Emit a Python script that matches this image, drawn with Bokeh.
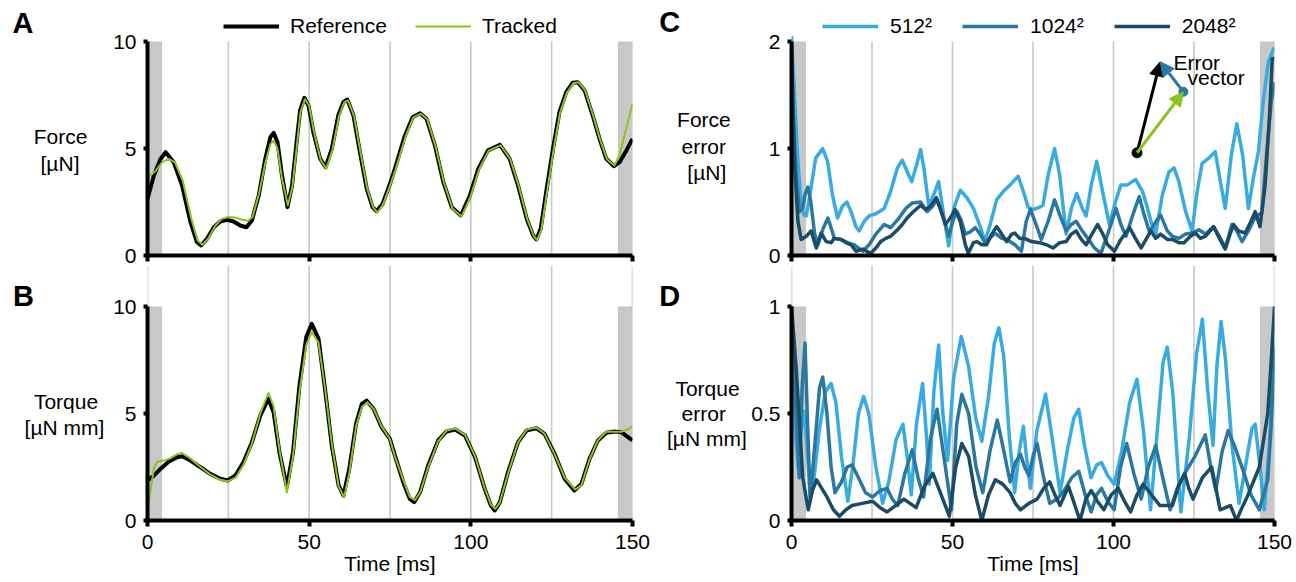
from bokeh.plotting import figure
from bokeh.models import Range1d, FixedTicker, Legend, LegendItem, Arrow, NormalHead
from bokeh.layouts import row, column
from bokeh.core.properties import value
from bokeh.embed import file_html
from bokeh.resources import INLINE

FONT = "Liberation Sans"

# ---------------- data ----------------
time_ticks = [0, 50, 100, 150]
grid_times = [0, 25, 50, 75, 100, 125, 150]
shade_left = [0, 145.5]
shade_right = [4.5, 150]

force_ref_t = [0, 2, 4, 5.6, 8.1, 10.7, 13.3, 15.3, 16.6, 18.4, 20.5, 22.5, 24.6, 26.6, 28.7, 30.6, 32.3, 34.4, 36.4, 38,
               39, 40.2, 41.6, 43.3, 44.7, 46, 47.2, 48.5, 49.8, 51.3, 53.4, 55.1, 57, 59, 60.6, 61.8, 63.7, 65.7, 67.8, 69.6,
               70.9, 72.7, 75, 76.5, 79.6, 82, 84.3, 86.3, 88.9, 91.5, 94.1, 96.9, 99.7, 102.3, 105.3, 109, 112, 114.6, 117.3, 119.3,
               120.3, 121.6, 123.3, 125.4, 127.4, 129.5, 131.5, 133.1, 135.2, 137.7, 139.8, 141.9, 144.3, 146, 148.1, 150]
force_ref = [2.65, 3.75, 4.5, 4.83, 4.36, 3.27, 1.56, 0.62, 0.47, 0.78, 1.32, 1.59, 1.67, 1.59, 1.4, 1.32, 1.64, 2.8, 4.5, 5.53,
             5.73, 5.3, 3.74, 2.26, 3.27, 5.14, 6.78, 7.37, 7.0, 5.76, 4.52, 4.13, 4.98, 6.54, 7.17, 7.29, 6.54, 4.83, 3.12, 2.26,
             2.07, 2.41, 3.35, 4.05, 5.6, 6.46, 6.65, 6.39, 5.14, 3.43, 2.26, 1.87, 2.8, 4.05, 4.91, 5.17, 4.52, 3.27, 1.71, 0.93,
             0.75, 1.25, 2.96, 4.98, 6.7, 7.63, 8.07, 8.1, 7.71, 6.54, 5.45, 4.52, 4.17, 4.36, 4.91, 5.45]

force_trk_t = [0, 1, 2.5, 4.5, 6.6, 8.5, 10.9, 13.5, 15.5, 17, 18.8, 20.8, 22.8, 25, 27, 29, 31, 32.5, 34.5, 36.4,
               38, 39, 40.2, 41.6, 43.4, 44.8, 46.1, 47.3, 48.7, 50, 51.5, 53.6, 55.3, 57.2, 59.2, 60.8, 62, 63.9, 65.9, 68,
               69.8, 71.1, 72.9, 75.2, 76.7, 79.8, 82.2, 84.5, 86.5, 89.1, 91.7, 94.3, 97.1, 99.9, 102.5, 105.5, 109.2, 112.2, 114.8, 117.5,
               119.5, 120.5, 121.8, 123.5, 125.6, 127.6, 129.7, 131.7, 133.3, 135.4, 137.9, 140, 142.1, 144.4, 146, 148, 150]
force_trk = [3.82, 3.75, 3.95, 4.35, 4.52, 4.35, 3.5, 1.75, 0.7, 0.5, 0.8, 1.35, 1.7, 1.8, 1.78, 1.68, 1.62, 1.8, 2.9, 4.3,
             5.2, 5.37, 5.0, 3.6, 2.35, 3.2, 5.0, 6.7, 7.3, 7.0, 5.75, 4.45, 4.05, 4.95, 6.5, 7.15, 7.25, 6.5, 4.8, 3.1,
             2.25, 2.0, 2.4, 3.35, 4.0, 5.55, 6.45, 6.62, 6.38, 5.1, 3.4, 2.2, 1.82, 2.75, 4.0, 4.9, 5.15, 4.5, 3.25, 1.68,
             0.9, 0.72, 1.2, 2.9, 4.95, 6.68, 7.6, 8.05, 8.1, 7.7, 6.5, 5.4, 4.5, 4.2, 4.7, 5.9, 7.09]

torque_ref_t = [0, 2, 4, 6.6, 9.2, 10.7, 13.3, 16.4, 19.4, 22.5, 24.8, 27.2, 29.7, 32.3, 34.9, 37.4, 39, 40.8, 43.1, 45,
                47, 49.1, 50.8, 52.9, 54.9, 57, 59.1, 60.6, 62.4, 64.5, 66.3, 67.8, 69.9, 72.4, 75, 76.5, 79.1, 81.1, 82.5, 84.3,
                86.8, 89.9, 92.5, 95.1, 98.2, 101.3, 104.3, 106.2, 107.4, 109, 111.5, 114.6, 117.3, 120.3, 122.8, 125.9, 129, 132, 134.2, 136.7,
                139.3, 141.9, 144.5, 146.5, 150]
torque_ref = [1.87, 2.1, 2.41, 2.76, 2.96, 3.0, 2.8, 2.49, 2.18, 1.95, 1.87, 2.1, 2.73, 3.66, 4.91, 5.69, 5.06, 3.19, 1.56, 3.19,
              6.31, 8.57, 9.19, 8.49, 6.15, 3.5, 1.64, 1.17, 2.41, 4.52, 5.45, 5.6, 5.22, 4.36, 3.8, 3.04, 1.79, 1.01, 0.86, 1.32,
              2.57, 3.74, 4.16, 4.25, 3.97, 2.96, 1.48, 0.7, 0.47, 0.86, 2.26, 3.66, 4.21, 4.31, 4.05, 3.12, 1.95, 1.4, 1.71, 2.88,
              3.74, 4.1, 4.16, 4.13, 3.74]

torque_trk_t = [0, 1, 2, 3, 5, 7, 9.2, 10.7, 13.3, 16.4, 19.4, 22.5, 24.8, 27.2, 29.7, 32.3, 34.9, 37.4, 39, 40.8,
                43.1, 45, 47, 49.1, 50.8, 52.9, 54.9, 57, 59.1, 60.8, 62.4, 64.5, 66.3, 68, 70, 72.4, 75, 76.5, 79.1, 81.1,
                82.7, 84.3, 86.8, 89.9, 92.5, 95.1, 98.2, 101.3, 104.3, 106.2, 107.6, 109, 111.5, 114.6, 117.3, 120.3, 122.8, 125.9, 129, 132.3,
                134.2, 136.7, 139.3, 141.9, 144.5, 146.5, 148.5, 150]
torque_trk = [0.4, 1.5, 2.45, 2.75, 2.8, 2.9, 3.1, 3.15, 2.9, 2.5, 2.15, 1.9, 1.83, 2.0, 2.6, 3.6, 5.0, 5.97, 5.35, 3.3,
              1.32, 3.0, 6.0, 8.2, 8.8, 8.3, 6.2, 3.6, 1.6, 1.09, 2.2, 4.4, 5.3, 5.53, 5.2, 4.4, 3.8, 3.0, 1.9, 1.1,
              0.95, 1.3, 2.5, 3.7, 4.2, 4.3, 4.0, 3.0, 1.5, 0.75, 0.55, 0.85, 2.2, 3.65, 4.25, 4.35, 4.05, 3.1, 2.0, 1.45,
              1.65, 2.85, 3.75, 4.15, 4.15, 4.15, 4.25, 4.4]

# force error (time, value) per resolution
force_err_512 = [(0, 2.05), (0.8, 1.59), (1.8, 0.97), (2.8, 0.57), (3.8, 0.38), (4.6, 0.37), (5.9, 0.6), (7.5, 0.91),
                 (9.7, 1.0), (11.2, 0.88), (12.7, 0.57), (14.3, 0.35), (15.8, 0.46), (17.2, 0.5), (18.5, 0.41), (20, 0.27),
                 (21, 0.23), (22.6, 0.32), (24.1, 0.37), (26.2, 0.39), (28.8, 0.44), (30.8, 0.6), (32.9, 0.82), (34.4, 0.89),
                 (36, 0.78), (37.3, 0.69), (38.9, 0.85), (40.1, 0.99), (41.1, 0.82), (42.6, 0.47), (44.2, 0.57), (45.7, 0.69),
                 (47.1, 0.41), (48.8, 0.09), (50.4, 0.44), (52.4, 0.61), (54.5, 0.54), (56.5, 0.44), (58.6, 0.27), (60.1, 0.13),
                 (61.7, 0.29), (63.7, 0.52), (65.8, 0.6), (67.9, 0.66), (70.4, 0.74), (72, 0.6), (73.5, 0.45), (75, 0.43),
                 (77, 0.45), (78.1, 0.47), (79.7, 0.75), (81.7, 1.0), (83.3, 0.75), (85.3, 0.2), (86.9, 0.44), (88.6, 0.58),
                 (90.3, 0.44), (91.5, 0.37), (93.1, 0.66), (94.8, 0.88), (96.6, 0.6), (98.7, 0.29), (100.6, 0.5), (102.3, 0.66),
                 (104.3, 0.66), (106.9, 0.71), (109, 0.6), (110.5, 0.45), (111.6, 0.32), (113.1, 0.2), (115.2, 0.57),
                 (117.2, 0.78), (118.8, 0.82), (120.3, 0.69), (122.4, 0.41), (124.4, 0.23), (126, 0.6), (127.5, 0.86),
                 (129.6, 0.91), (131.6, 0.97), (133.2, 0.69), (134.7, 0.44), (136.6, 0.94), (138.3, 1.23), (140.1, 0.94),
                 (141.9, 0.44), (143.4, 0.72), (145, 0.97), (146.5, 1.44), (148.1, 1.81), (149.7, 1.93), (150, 1.94)]
force_err_1024 = [(0, 1.23), (0.5, 1.23), (1.5, 0.72), (2.5, 0.41), (3.5, 0.45), (4.3, 0.58), (5.1, 0.64), (6, 0.5), (7.2, 0.2),
                  (8.2, 0.1), (9.8, 0.25), (11.3, 0.35), (12.4, 0.25), (13.3, 0.16), (15.4, 0.15), (17.4, 0.12), (19.5, 0.1),
                  (22.1, 0.04), (24.1, 0.1), (26.2, 0.2), (28.8, 0.29), (30.8, 0.26), (33.4, 0.35), (35.5, 0.44), (37.5, 0.49),
                  (40.1, 0.5), (42.1, 0.41), (43.5, 0.45), (45.2, 0.52), (46.6, 0.4), (47.8, 0.29), (48.8, 0.18), (50.2, 0.33),
                  (51.4, 0.41), (52.7, 0.33), (54, 0.2), (55.5, 0.22), (57.1, 0.26), (58.6, 0.2), (60.1, 0.12), (61.6, 0.16),
                  (63.2, 0.21), (65.3, 0.16), (66.8, 0.15), (69.4, 0.1), (71.4, 0.04), (72.9, 0.32), (74.2, 0.43), (75.6, 0.32),
                  (77.6, 0.15), (79.7, 0.32), (81.7, 0.52), (83.3, 0.38), (85.3, 0.23), (86.9, 0.29), (88.4, 0.32), (90.3, 0.23),
                  (92, 0.16), (94.1, 0.07), (96.1, 0.02), (98.2, 0.2), (100.8, 0.44), (102.3, 0.29), (103.9, 0.18), (106, 0.38),
                  (108, 0.55), (109.5, 0.38), (111.2, 0.22), (112.8, 0.3), (114.6, 0.38), (116.7, 0.23), (118.3, 0.18),
                  (120.3, 0.16), (122.4, 0.2), (124.4, 0.21), (126.5, 0.24), (128.6, 0.2), (131.1, 0.27), (133.2, 0.16),
                  (134.7, 0.07), (136.8, 0.29), (138.3, 0.23), (139.9, 0.13), (141.9, 0.23), (143.5, 0.33), (145, 0.38),
                  (146.1, 0.4), (147.6, 0.97), (149, 1.44), (150, 1.62)]
force_err_2048 = [(0, 1.95), (1, 0.82), (2, 0.32), (3, 0.15), (4.6, 0.18), (6.1, 0.23), (7.7, 0.07), (9.2, 0.21), (10.8, 0.13),
                  (12.3, 0.12), (13.3, 0.16), (15.4, 0.15), (16.9, 0.12), (18.5, 0.1), (20, 0.04), (22.1, 0.06), (24.6, 0.02),
                  (26.2, 0.07), (27.7, 0.13), (29.3, 0.16), (30.8, 0.18), (32.9, 0.24), (34.4, 0.29), (35.9, 0.35), (37.5, 0.4),
                  (40.1, 0.47), (41.6, 0.43), (43.1, 0.46), (45, 0.54), (46.2, 0.44), (47.8, 0.29), (49.3, 0.35), (50.8, 0.43),
                  (52.4, 0.32), (54, 0.1), (54.9, 0.02), (56.5, 0.12), (57.6, 0.13), (59.1, 0.1), (60.6, 0.1), (62.2, 0.2),
                  (63.7, 0.27), (65.3, 0.2), (66.8, 0.13), (68.4, 0.2), (69.3, 0.21), (70.9, 0.16), (72.4, 0.16), (74.5, 0.13),
                  (77.1, 0.12), (79.2, 0.1), (81.2, 0.07), (83.3, 0.12), (85.3, 0.13), (86.9, 0.2), (88.4, 0.23), (90, 0.15),
                  (91.5, 0.1), (93.3, 0.2), (95.1, 0.29), (96.7, 0.2), (98.2, 0.1), (100.3, 0.04), (102.3, 0.15), (105, 0.26),
                  (106.8, 0.16), (108.6, 0.07), (110.1, 0.15), (111.6, 0.23), (113.1, 0.16), (114.6, 0.2), (116.7, 0.15),
                  (118.3, 0.15), (120.3, 0.12), (121.9, 0.12), (123.9, 0.18), (125.4, 0.21), (127, 0.16), (128.6, 0.18),
                  (131.1, 0.27), (132.9, 0.16), (134.7, 0.06), (136.2, 0.2), (137.3, 0.29), (138.8, 0.23), (140.9, 0.21),
                  (142.7, 0.32), (144, 0.41), (145.5, 0.27), (147.1, 0.66), (148.4, 1.28), (149.3, 1.84), (150, 1.84)]

# torque error (time, value) per resolution
torque_err_512 = [(0, 0.73), (0.9, 0.47), (2.1, 0.24), (3.0, 0.42), (3.9, 0.51), (4.8, 0.35), (5.8, 0.11), (7.0, 0.2),
                  (8.6, 0.42), (10.5, 0.6), (12.3, 0.64), (13.8, 0.55), (15.5, 0.3), (17.5, 0.09), (19, 0.25), (20.8, 0.5),
                  (22.4, 0.58), (24, 0.5), (26.2, 0.25), (28.3, 0.08), (30.2, 0.18), (32.5, 0.38), (34.6, 0.45), (35.9, 0.3),
                  (37.2, 0.12), (38.8, 0.45), (40.7, 0.64), (41.8, 0.42), (42.8, 0.17), (44.2, 0.6), (45.7, 0.82), (47, 0.5),
                  (48.5, 0.28), (50.3, 0.66), (52.7, 0.86), (55, 0.72), (57.2, 0.48), (59.1, 0.37), (61.2, 0.58), (63, 0.83),
                  (64.4, 0.9), (65.9, 0.77), (67.6, 0.4), (69.3, 0.13), (70.7, 0.32), (72, 0.44), (73.1, 0.28), (74.2, 0.15),
                  (76.2, 0.42), (78.9, 0.59), (81, 0.38), (83.4, 0.13), (85.8, 0.34), (87.7, 0.48), (89.2, 0.52), (91, 0.35),
                  (93, 0.2), (94.8, 0.26), (96.3, 0.27), (98.2, 0.21), (100.2, 0.17), (102.5, 0.32), (105, 0.55), (107.3, 0.66),
                  (109.3, 0.42), (111.5, 0.05), (113.6, 0.42), (115.4, 0.74), (116.7, 0.81), (118.4, 0.6), (120.9, 0.04),
                  (123.5, 0.38), (125.8, 0.78), (127.6, 0.94), (129.2, 0.62), (130.9, 0.35), (132.1, 0.72), (133.4, 0.93),
                  (134.8, 0.75), (136.8, 0.35), (139, 0.08), (141.5, 0.3), (143, 0.43), (144, 0.45), (145.5, 0.25),
                  (146.8, 0.05), (148.4, 0.35), (150, 0.84)]
torque_err_1024 = [(0, 0.9), (1.3, 0.55), (2.4, 0.2), (3.3, 0.62), (4.2, 0.83), (5.0, 0.45), (5.8, 0.1), (7.5, 0.4), (8.7, 0.62),
                   (9.7, 0.67), (11, 0.5), (12.3, 0.25), (13.5, 0.13), (15.5, 0.18), (17.3, 0.25), (18.8, 0.26), (20.8, 0.2),
                   (23, 0.13), (25.2, 0.11), (27.5, 0.14), (29.7, 0.15), (31.3, 0.1), (33, 0.07), (35.2, 0.22), (37.5, 0.33),
                   (39.3, 0.2), (41, 0.11), (43.1, 0.38), (45.2, 0.52), (47.5, 0.28), (49.7, 0.05), (51.3, 0.45), (52.9, 0.59),
                   (55, 0.5), (57.3, 0.25), (59.4, 0.13), (61.7, 0.33), (63.9, 0.47), (66, 0.32), (67.9, 0.18), (69.5, 0.27),
                   (71.1, 0.31), (72.4, 0.25), (73.7, 0.21), (75, 0.3), (76.3, 0.36), (78.3, 0.2), (80.2, 0.08), (82.5, 0.1),
                   (84.7, 0.14), (87, 0.2), (89.2, 0.23), (91.2, 0.12), (93.1, 0.04), (94.7, 0.12), (96.3, 0.15), (98.2, 0.09),
                   (100.2, 0.05), (102.2, 0.25), (104.1, 0.36), (106.3, 0.22), (108.6, 0.1), (110.8, 0.25), (113.1, 0.35),
                   (115.3, 0.2), (117.6, 0.05), (119.8, 0.15), (122.1, 0.22), (125.3, 0.3), (128.5, 0.4), (130.2, 0.25),
                   (131.8, 0.14), (133.7, 0.32), (135.6, 0.42), (137.8, 0.34), (140.1, 0.24), (142.7, 0.12), (145.3, 0.05),
                   (147.9, 0.19), (149, 0.45), (150, 0.81)]
torque_err_2048 = [(0, 1.0), (1.5, 0.7), (3.5, 0.2), (5.2, 0.05), (6.5, 0.14), (7.8, 0.19), (9.4, 0.15), (11, 0.11), (13, 0.05),
                   (14.9, 0.02), (16.9, 0.05), (18.8, 0.07), (22, 0.08), (25.2, 0.09), (27.5, 0.06), (29.7, 0.04), (32.3, 0.07),
                   (34.9, 0.1), (36.8, 0.08), (38.7, 0.06), (41.3, 0.16), (43.9, 0.22), (46.5, 0.12), (49, 0.02), (51, 0.25),
                   (52.9, 0.36), (55, 0.3), (57.1, 0.12), (59.1, 0.0), (61.2, 0.12), (63.3, 0.19), (65.6, 0.17), (67.9, 0.13),
                   (69.5, 0.08), (71.1, 0.05), (73.7, 0.08), (76.3, 0.1), (78.3, 0.15), (80.2, 0.18), (81.8, 0.12), (83.4, 0.07),
                   (86, 0.16), (87.8, 0.08), (89.6, 0.0), (91.4, 0.1), (93.1, 0.14), (95, 0.09), (97, 0.05), (99.3, 0.12),
                   (101.5, 0.15), (103.4, 0.09), (105.3, 0.04), (107.3, 0.12), (109.2, 0.17), (111.8, 0.12), (114.4, 0.07),
                   (118.3, 0.07), (120.2, 0.16), (122.1, 0.22), (123.4, 0.15), (124.7, 0.1), (127.6, 0.2), (130.5, 0.25),
                   (131.8, 0.15), (133.1, 0.05), (136.3, 0.07), (138.2, 0.0), (139.9, 0.06), (141.5, 0.11), (143.4, 0.18),
                   (145.3, 0.25), (147.9, 0.5), (149, 0.75), (150, 1.0)]

resolutions = ["512²", "1024²", "2048²"]

# error-vector inset (time, force error) coordinates
vec_origin = (107.3, 0.96)
vec_reference = (114.5, 1.81)
vec_tracked = (121.7, 1.53)

# ---------------- style ----------------
REF_COLOR = "#000000"
TRK_COLOR = "#8dc21f"
RES_COLORS = ["#38abe0", "#2a78a2", "#1b4c66"]
GRID_COLOR = "#c9c9c9"
SHADE_COLOR = "#c8c8c8"
FS = "21px"

SIDE_L, SIDE_R = 107, 96
PLOT_L = 40 + 485 + 20
PLOT_R = 41 + 485 + 18
FRAME_H = 255          # both frames are 255 px tall; axis spans 214 px of it
H_TOP, H_BOT = FRAME_H + 10, FRAME_H + 62
H_ALL = H_TOP + H_BOT


def make_fig(width, height, axis_top, left, right, bottom):
    ytop = axis_top * FRAME_H / 214.0
    p = figure(width=width, height=height, x_range=Range1d(0, 150), y_range=Range1d(0, ytop),
               output_backend="svg", toolbar_location=None,
               min_border_left=left, min_border_right=right, min_border_top=0, min_border_bottom=bottom)
    p.outline_line_color = None
    p.grid.visible = False
    for ax in (p.xaxis[0], p.yaxis[0]):
        ax.axis_line_width = 4
        ax.axis_line_color = "black"
        ax.major_tick_line_width = 4
        ax.major_tick_line_color = "black"
        ax.major_tick_in = 0
        ax.minor_tick_line_color = None
        ax.major_label_text_font = FONT
        ax.major_label_text_font_size = FS
        ax.major_label_text_color = "black"
    p.xaxis.ticker = FixedTicker(ticks=time_ticks)
    p.xaxis.bounds = (0, 150)
    p.xaxis.major_tick_out = 6
    p.yaxis.major_tick_out = 4
    p.yaxis.major_label_standoff = 7
    p.yaxis.bounds = (0, axis_top)
    return p, ytop


def grid(p, top):
    n = len(grid_times)
    p.segment(x0=grid_times, y0=[0] * n, x1=grid_times, y1=[top] * n, line_color=GRID_COLOR, line_width=1.6)


def bottom_axis(p):
    p.xaxis.major_label_standoff = 8
    p.xaxis.axis_label = "Time [ms]"
    p.xaxis.axis_label_text_font = FONT
    p.xaxis.axis_label_text_font_size = FS
    p.xaxis.axis_label_text_font_style = "normal"
    p.xaxis.axis_label_text_color = "black"
    p.xaxis.axis_label_standoff = 0


def hide_xlabels(p):
    p.xaxis.major_label_text_font_size = "1px"
    p.xaxis.major_label_text_color = None
    p.xaxis.major_label_standoff = 0


def shade(p, top):
    p.quad(left=shade_left, right=shade_right, bottom=0, top=top, fill_color=SHADE_COLOR, line_color=None)


def blank_fig(width, height):
    p = figure(width=width, height=height, x_range=Range1d(0, width), y_range=Range1d(height, 0),
               x_axis_type=None, y_axis_type=None, output_backend="svg", toolbar_location=None,
               min_border=0)
    p.outline_line_color = None
    return p


def write(p, xs, ys, texts, size=FS, bold=False, align="center"):
    p.text(x=xs, y=ys, text=texts, text_font=value(FONT), text_font_size=value(size),
           text_font_style="bold" if bold else "normal", text_align=align,
           text_baseline="middle", text_color="black")


def legend(p, renderers, labels, x0, standoff, spacing):
    p.add_layout(Legend(items=[LegendItem(label=lab, renderers=[r]) for lab, r in zip(labels, renderers)],
                        location=(x0, 217), orientation="horizontal", glyph_width=56, glyph_height=20,
                        label_standoff=standoff, spacing=spacing, padding=0, margin=0, border_line_color=None,
                        background_fill_alpha=0, label_text_font=FONT, label_text_font_size=FS,
                        label_text_color="black"))


def err_lines(p, series_list):
    out = []
    for series, col in zip(series_list, RES_COLORS):
        t, v = zip(*series)
        out.append(p.line(list(t), list(v), line_color=col, line_width=3.5, line_join="round"))
    return out


# ---------------- left column ----------------
sideL = blank_fig(SIDE_L, H_ALL)
write(sideL, [12, 12.6], [22, 295], ["A", "B"], size="29px", bold=True, align="left")
write(sideL, [60, 59.5, 65.5, 64], [136, 162.5, 401, 426.5], ["Force", "[µN]", "Torque", "[µN mm]"])

pA, topA = make_fig(PLOT_L, H_TOP, 10, 40, 20, 10)
hide_xlabels(pA)
pA.yaxis.ticker = FixedTicker(ticks=[0, 5, 10])
grid(pA, 10)
shade(pA, 10)
rA1 = pA.line(force_ref_t, force_ref, line_color=REF_COLOR, line_width=4, line_join="round")
rA2 = pA.line(force_trk_t, force_trk, line_color=TRK_COLOR, line_width=2, line_join="round")
legend(pA, [rA1, rA2], ["Reference", "Tracked"], 76, 11, 28)

pB, topB = make_fig(PLOT_L, H_BOT, 10, 40, 20, 62)
bottom_axis(pB)
pB.yaxis.ticker = FixedTicker(ticks=[0, 5, 10])
grid(pB, topB)
shade(pB, 10)
pB.line(torque_ref_t, torque_ref, line_color=REF_COLOR, line_width=4, line_join="round")
pB.line(torque_trk_t, torque_trk, line_color=TRK_COLOR, line_width=2, line_join="round")

# ---------------- right column ----------------
sideR = blank_fig(SIDE_R, H_ALL)
write(sideR, [6.8, 6.8], [21, 295], ["C", "D"], size="29px", bold=True, align="left")
write(sideR, [51.4, 51.2, 54.3, 55, 51.2, 54.4],
      [119.2, 146, 172, 387.5, 412.6, 438],
      ["Force", "error", "[µN]", "Torque", "error", "[µN mm]"])

pC, topC = make_fig(PLOT_R, H_TOP, 2, 41, 18, 10)
hide_xlabels(pC)
pC.yaxis.ticker = FixedTicker(ticks=[0, 1, 2])
grid(pC, 2)
shade(pC, 2)
rC = err_lines(pC, [force_err_512, force_err_1024, force_err_2048])
legend(pC, rC, resolutions, 31, 12, 30)
pC.add_layout(Arrow(end=NormalHead(size=14, fill_color=REF_COLOR, line_color=REF_COLOR),
                    x_start=vec_origin[0], y_start=vec_origin[1], x_end=vec_reference[0], y_end=vec_reference[1],
                    line_color=REF_COLOR, line_width=3))
pC.add_layout(Arrow(end=NormalHead(size=14, fill_color=TRK_COLOR, line_color=TRK_COLOR),
                    x_start=vec_origin[0], y_start=vec_origin[1], x_end=vec_tracked[0], y_end=vec_tracked[1],
                    line_color=TRK_COLOR, line_width=3))
pC.add_layout(Arrow(end=NormalHead(size=14, fill_color=RES_COLORS[1], line_color=RES_COLORS[1]),
                    x_start=vec_tracked[0], y_start=vec_tracked[1], x_end=vec_reference[0], y_end=vec_reference[1],
                    line_color=RES_COLORS[1], line_width=3))
pC.scatter([vec_origin[0]], [vec_origin[1]], size=10, color=REF_COLOR)
pC.scatter([vec_tracked[0]], [vec_tracked[1]], size=9, color=RES_COLORS[1])
write(pC, [118.6, 123.0], [1.8, 1.66], ["Error", "vector"], align="left")

pD, topD = make_fig(PLOT_R, H_BOT, 1, 41, 18, 62)
bottom_axis(pD)
pD.yaxis.ticker = FixedTicker(ticks=[0, 0.5, 1])
pD.yaxis.major_label_overrides = {0: "0", 0.5: "0.5", 1: "1"}
grid(pD, topD)
shade(pD, 1)
err_lines(pD, [torque_err_512, torque_err_1024, torque_err_2048])

layout = row(row(sideL, column(pA, pB)), row(sideR, column(pC, pD)))
open("out.html", "w").write(file_html(layout, INLINE))
